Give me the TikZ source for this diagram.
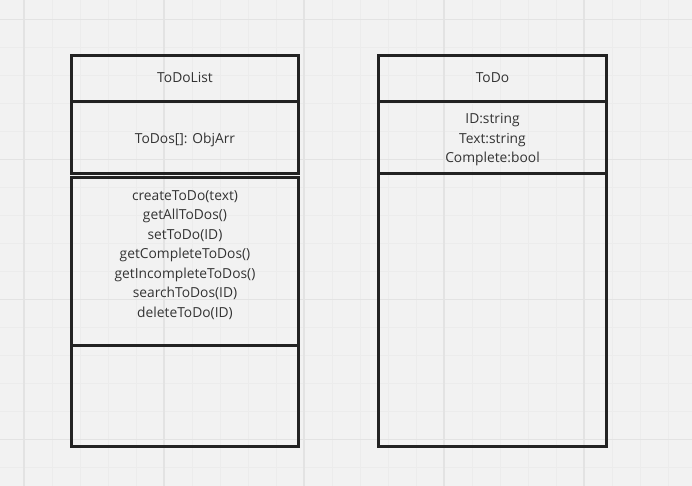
\documentclass[tikz,border=0pt]{standalone}
\usepackage{fontspec}
\setmainfont{Open Sans}

\definecolor{canvas}{HTML}{F2F2F2}
\definecolor{minorgrid}{HTML}{ECECEC}
\definecolor{majorgrid}{HTML}{E3E3E3}
\definecolor{umlline}{HTML}{222222}
\definecolor{umltext}{HTML}{333333}

\tikzset{
	umlbox/.style={draw=umlline, line width=3pt},
	umllabel/.style={text=umltext, align=center, inner sep=0pt, font=\fontsize{13.8}{19.5}\selectfont},
}

\begin{document}
\begin{tikzpicture}[x=1pt,y=-1pt]

		% canvas
		\fill[canvas] (0,0) rectangle (692,486);
		\useasboundingbox (0,0) rectangle (692,486);
		
		\begin{scope}
			\clip (0,0) rectangle (692,486);
			
			% minor grid
			\foreach \x in {-4,24,...,700} \draw[minorgrid,line width=1pt] (\x,0) -- (\x,486);
			\foreach \y in {-8.5,19.5,...,500} \draw[minorgrid,line width=1pt] (0,\y) -- (692,\y);
			
			% major grid
			\foreach \x in {24,164,...,700} \draw[majorgrid,line width=1.5pt] (\x,0) -- (\x,486);
			\foreach \y in {19.5,159.5,...,500} \draw[majorgrid,line width=1.5pt] (0,\y) -- (692,\y);
		\end{scope}

		%---------------------
		% ToDoList
		%---------------------
		\draw[umlbox] (71,55.5) rectangle (298.5,101.5);
		\draw[umlbox] (71,101.5) rectangle (298.5,174);
		\draw[umlbox] (71,177.5) rectangle (298.5,345);
		\draw[umlbox] (71,345) rectangle (298.5,446);
		
		\node[umllabel] (listname) at (185,78) {ToDoList};
		\node[umllabel] (listattrs) at (185,140) {ToDos[]: ObjArr};
		\node[umllabel] (listops) at (185,255) {createToDo(text)\\getAllToDos()\\setToDo(ID)\\getCompleteToDos()\\getIncompleteToDos()\\searchToDos(ID)\\deleteToDo(ID)};

		%---------------------
		% ToDo
		%---------------------
		\draw[umlbox] (378.5,55.5) rectangle (606.5,101.5);
		\draw[umlbox] (378.5,101.5) rectangle (606.5,174);
		\draw[umlbox] (378.5,174) rectangle (606.5,446);
		
		\node[umllabel] (todoname) at (492.5,78) {ToDo};
		\node[umllabel] (todoattrs) at (492.5,140) {ID:string\\Text:string\\Complete:bool};

\end{tikzpicture}
\end{document}
